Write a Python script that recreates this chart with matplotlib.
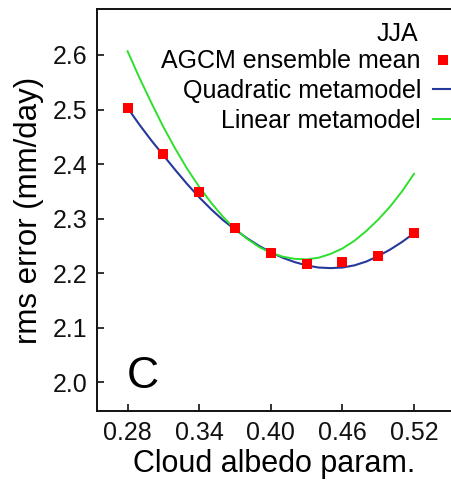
import matplotlib
matplotlib.use("Agg")
import matplotlib.pyplot as plt

plt.rcParams['font.family'] = ['Liberation Sans', 'DejaVu Sans']

# AGCM ensemble mean points
pts_x = [0.28, 0.31, 0.34, 0.37, 0.40, 0.43, 0.46, 0.49, 0.52]
pts_y = [2.503, 2.418, 2.349, 2.282, 2.237, 2.217, 2.220, 2.232, 2.273]

# metamodel curves
curve_x = [0.28, 0.29, 0.30, 0.31, 0.32, 0.33, 0.34, 0.35, 0.36, 0.37, 0.38, 0.39,
           0.40, 0.41, 0.42, 0.43, 0.44, 0.45, 0.46, 0.47, 0.48, 0.49, 0.50, 0.51, 0.52]
quad_y = [2.503, 2.472, 2.443, 2.416, 2.389, 2.363, 2.339, 2.317, 2.297, 2.280, 2.264, 2.250,
          2.238, 2.228, 2.220, 2.214, 2.210, 2.209, 2.210, 2.214, 2.221, 2.231, 2.243, 2.257, 2.273]
lin_y = [2.607, 2.558, 2.512, 2.468, 2.428, 2.391, 2.358, 2.329, 2.303, 2.281, 2.263, 2.248,
         2.237, 2.230, 2.226, 2.225, 2.228, 2.235, 2.245, 2.259, 2.277, 2.298, 2.322, 2.350, 2.382]

xticks = [0.28, 0.34, 0.40, 0.46, 0.52]
xtick_labels = ["0.28", "0.34", "0.40", "0.46", "0.52"]
yticks = [2.0, 2.1, 2.2, 2.3, 2.4, 2.5, 2.6]
ytick_labels = ["2.0", "2.1", "2.2", "2.3", "2.4", "2.5", "2.6"]

W, H = 452, 480
fig = plt.figure(figsize=(W / 100, H / 100), dpi=100)
ax = fig.add_axes([97 / W, 1 - 411 / H, (470 - 97) / W, (411 - 9) / H])

lq, = ax.plot(curve_x, quad_y, color='#26389a', lw=1.5, label='Quadratic metamodel', zorder=2)
ll, = ax.plot(curve_x, lin_y, color='#2ee02e', lw=1.4, label='Linear metamodel', zorder=2)
lp, = ax.plot(pts_x, pts_y, ls='none', marker='s', ms=7.4, mew=0, color='#ff0000',
              label='AGCM ensemble mean', zorder=3)

ax.set_xlim(0.2544, 0.5669)
ax.set_ylim(1.9468, 2.6844)
ax.set_xticks(xticks)
ax.set_xticklabels(xtick_labels)
ax.set_yticks(yticks)
ax.set_yticklabels(ytick_labels)
ax.tick_params(direction='in', length=5, width=1.2, labelsize=18, pad=7, colors='#111111')
for s in ax.spines.values():
    s.set_linewidth(1.4)
    s.set_color('#111111')

ax.set_xlabel('Cloud albedo param.', fontsize=22)
ax.xaxis.set_label_coords((274 - 97) / 373, -(472 - 411) / 402)
ax.xaxis.label.set_va('baseline')
ax.set_ylabel('rms error (mm/day)', fontsize=22.5, labelpad=6)

fig.text(127 / W, 1 - 388 / H, 'C', fontsize=32, va='baseline', ha='left')
fig.text(418.5 / W, 1 - 40.7 / H, 'JJA', fontsize=18, va='baseline', ha='right')

leg = ax.legend(handles=[lp, lq, ll], loc='upper right',
                bbox_to_anchor=(453 / W, 1 - 49.5 / H), bbox_transform=fig.transFigure,
                frameon=False, markerfirst=False, fontsize=18,
                handlelength=0.8, handletextpad=0.48, labelspacing=0.22,
                borderpad=0, borderaxespad=0, numpoints=1)
for t in leg.get_texts():
    t.set_ha('right')

fig.savefig('out.png', dpi=100)
